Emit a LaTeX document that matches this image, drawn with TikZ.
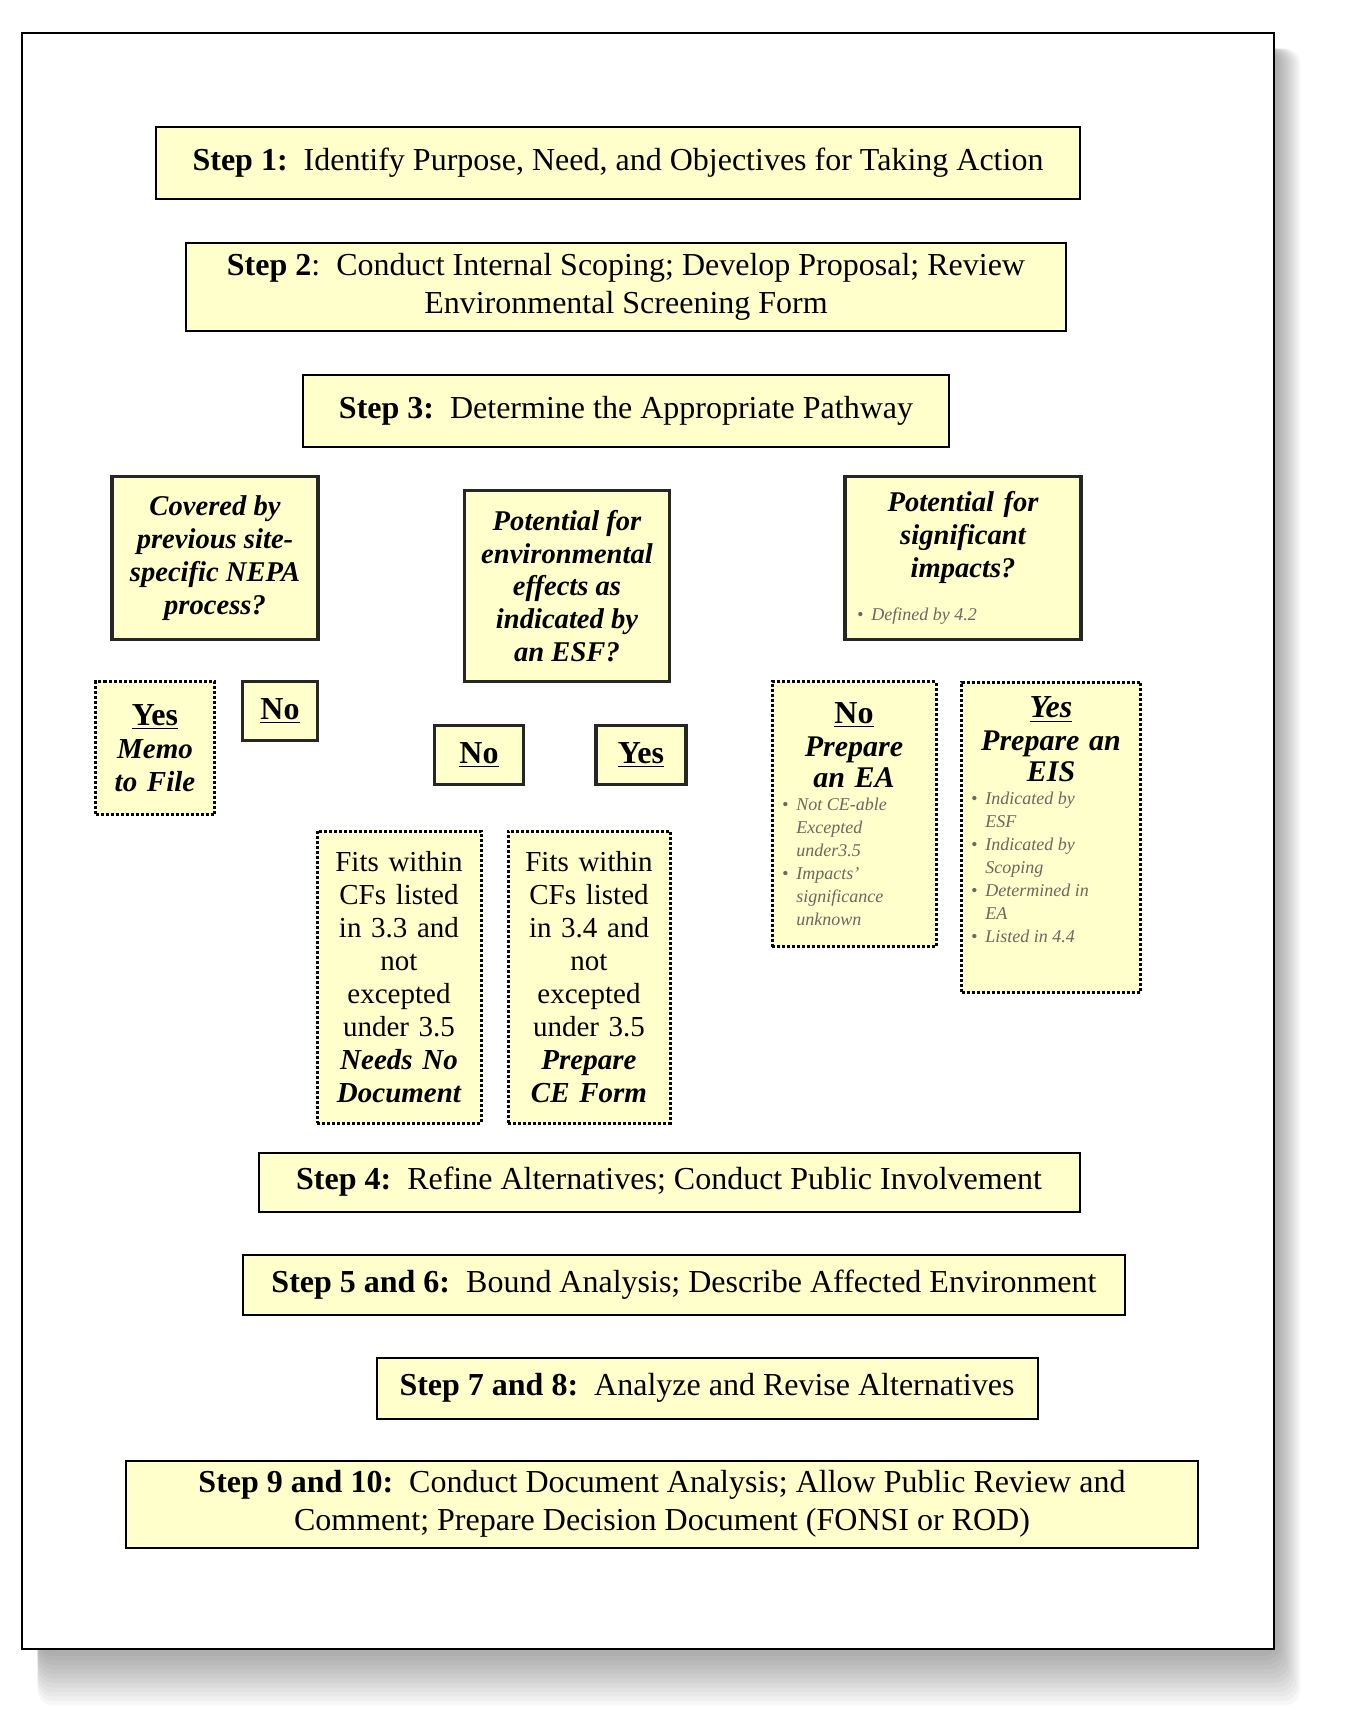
\documentclass[tikz,border=0pt]{standalone}
\usepackage{fontspec}
\setmainfont{Liberation Serif}
\usepackage{xcolor}
\usetikzlibrary{calc}
\definecolor{boxfill}{RGB}{255,255,204}
\definecolor{notegray}{RGB}{105,105,95}
\newcommand{\bfirst}[1]{\makebox[\hsize][l]{\hspace{3pt}\textbullet\hspace{4pt}#1}}
\newcommand{\bnext}[1]{\makebox[\hsize][l]{\hspace{3pt}\phantom{\textbullet}\hspace{4pt}#1}}
\newcommand{\notefont}{\fontsize{9}{11.5}\selectfont\mdseries\itshape\spaceskip=0pt\xspaceskip=0pt\color{notegray}}
\tikzset{
  dims/.style 2 args={minimum width=#1*0.5pt, minimum height=#2*0.5pt},
  stepbox/.style={draw=black, line width=1pt, fill=boxfill, align=center,
    inner sep=0pt, font=\fontsize{16}{19}\selectfont},
  askbox/.style={draw=black!85, line width=1.6pt, fill=boxfill, align=center,
    inner sep=0pt, font=\fontsize{14.3}{16.4}\selectfont\bfseries\itshape},
  ansbox/.style={draw=black!85, line width=1.6pt, fill=boxfill, align=center,
    inner sep=0pt, font=\fontsize{16}{19}\selectfont\bfseries},
  endbox/.style={draw=black, line width=1.5pt, dash pattern=on 1.5pt off 1pt,
    fill=boxfill, align=center, inner sep=0pt, font=\fontsize{14.5}{16.5}\selectfont}
}
\begin{document}
\begin{tikzpicture}[x=0.5pt, y=-0.5pt]
		\useasboundingbox (0,0) rectangle (1347,1714);
		\node (page) [dims={1252}{1616}, inner sep=0pt] at (648,841) {};
		\foreach \k in {1,...,12}
			\fill [black, opacity=0.03, rounded corners=8pt] ($(page.north west)+(16,16)$) rectangle ($(page.south east)+(2+2*\k,2+4.5*\k)$);
		\draw [black, line width=1pt, fill=white] (page.north west) rectangle (page.south east);
		\node (step1) [stepbox, dims={924}{72}] at (618,163) {\textbf{Step 1:}\ \ Identify Purpose, Need, and Objectives for Taking Action};
		\node (step2) [stepbox, dims={880}{88}] at (626,287) {\textbf{Step 2}:\ \ Conduct Internal Scoping; Develop Proposal; Review\\Environmental Screening Form};
		\node (step3) [stepbox, dims={646}{72}] at (626,411) {\textbf{Step 3:}\ \ Determine the Appropriate Pathway};
		\node (covered) [askbox, dims={206}{163}] at (215,558) {Covered by\\previous site-\\specific NEPA\\process?};
		\node (esf) [askbox, dims={205}{191}] at (567,586) {Potential for\\environmental\\effects as\\indicated by\\an ESF?};
		\node (signif) [askbox, dims={236}{163}, text width=112pt] at (963,558) {Potential for\\significant\\impacts?\\[10pt]\notefont\bfirst{Defined by 4.2}\par};
		\node (memo) [endbox, dims={119}{133}, text width=56pt] at (155,748) {\fontsize{16}{19}\selectfont\bfseries\underline{Yes}\\\itshape\fontsize{14.5}{16.5}\selectfont Memo\\to File};
		\node (covno) [ansbox, dims={75}{59}] at (280,711) {\underline{No}};
		\node (esfno) [ansbox, dims={89}{59}] at (479,755) {\underline{No}};
		\node (esfyes) [ansbox, dims={90}{59}] at (641,755) {\underline{Yes}};
		\node (prepea) [endbox, dims={164}{265}, text width=78pt] at (854,814) {\fontsize{16}{19}\selectfont\bfseries\underline{No}\\[1pt]\itshape\fontsize{15}{15.5}\selectfont Prepare\\an EA\\\notefont\bfirst{Not CE-able}\\\bnext{Excepted}\\\bnext{under3.5}\\\bfirst{Impacts'}\\\bnext{significance}\\\bnext{unknown}\par};
		\node (prepeis) [endbox, dims={179}{310}, text width=86pt] at (1051,837) {\fontsize{16}{19}\selectfont\bfseries\itshape\underline{Yes}\\[1pt]\fontsize{15}{15.5}\selectfont Prepare an\\EIS\\\notefont\bfirst{Indicated by}\\\bnext{ESF}\\\bfirst{Indicated by}\\\bnext{Scoping}\\\bfirst{Determined in}\\\bnext{EA}\\\bfirst{Listed in 4.4}\\\rule{0pt}{16pt}\par};
		\node (fits33) [endbox, dims={164}{292}, text width=78pt] at (399,977) {Fits within\\CFs listed\\in 3.3 and\\not\\excepted\\under 3.5\\\bfseries\itshape Needs No\\Document};
		\node (fits34) [endbox, dims={162}{292}, text width=78pt] at (589,977) {Fits within\\CFs listed\\in 3.4 and\\not\\excepted\\under 3.5\\\bfseries\itshape Prepare\\CE Form};
		\node (step4) [stepbox, dims={821}{59}] at (669,1182) {\textbf{Step 4:}\ \ Refine Alternatives; Conduct Public Involvement};
		\node (step56) [stepbox, dims={882}{60}] at (684,1285) {\textbf{Step 5 and 6:}\ \ Bound Analysis; Describe Affected Environment};
		\node (step78) [stepbox, dims={661}{61}] at (707,1388) {\textbf{Step 7 and 8:}\ \ Analyze and Revise Alternatives};
		\node (step910) [stepbox, dims={1072}{87}] at (662,1504) {\textbf{Step 9 and 10:}\ \ Conduct Document Analysis; Allow Public Review and\\Comment; Prepare Decision Document (FONSI or ROD)};
	\end{tikzpicture}
\end{document}
